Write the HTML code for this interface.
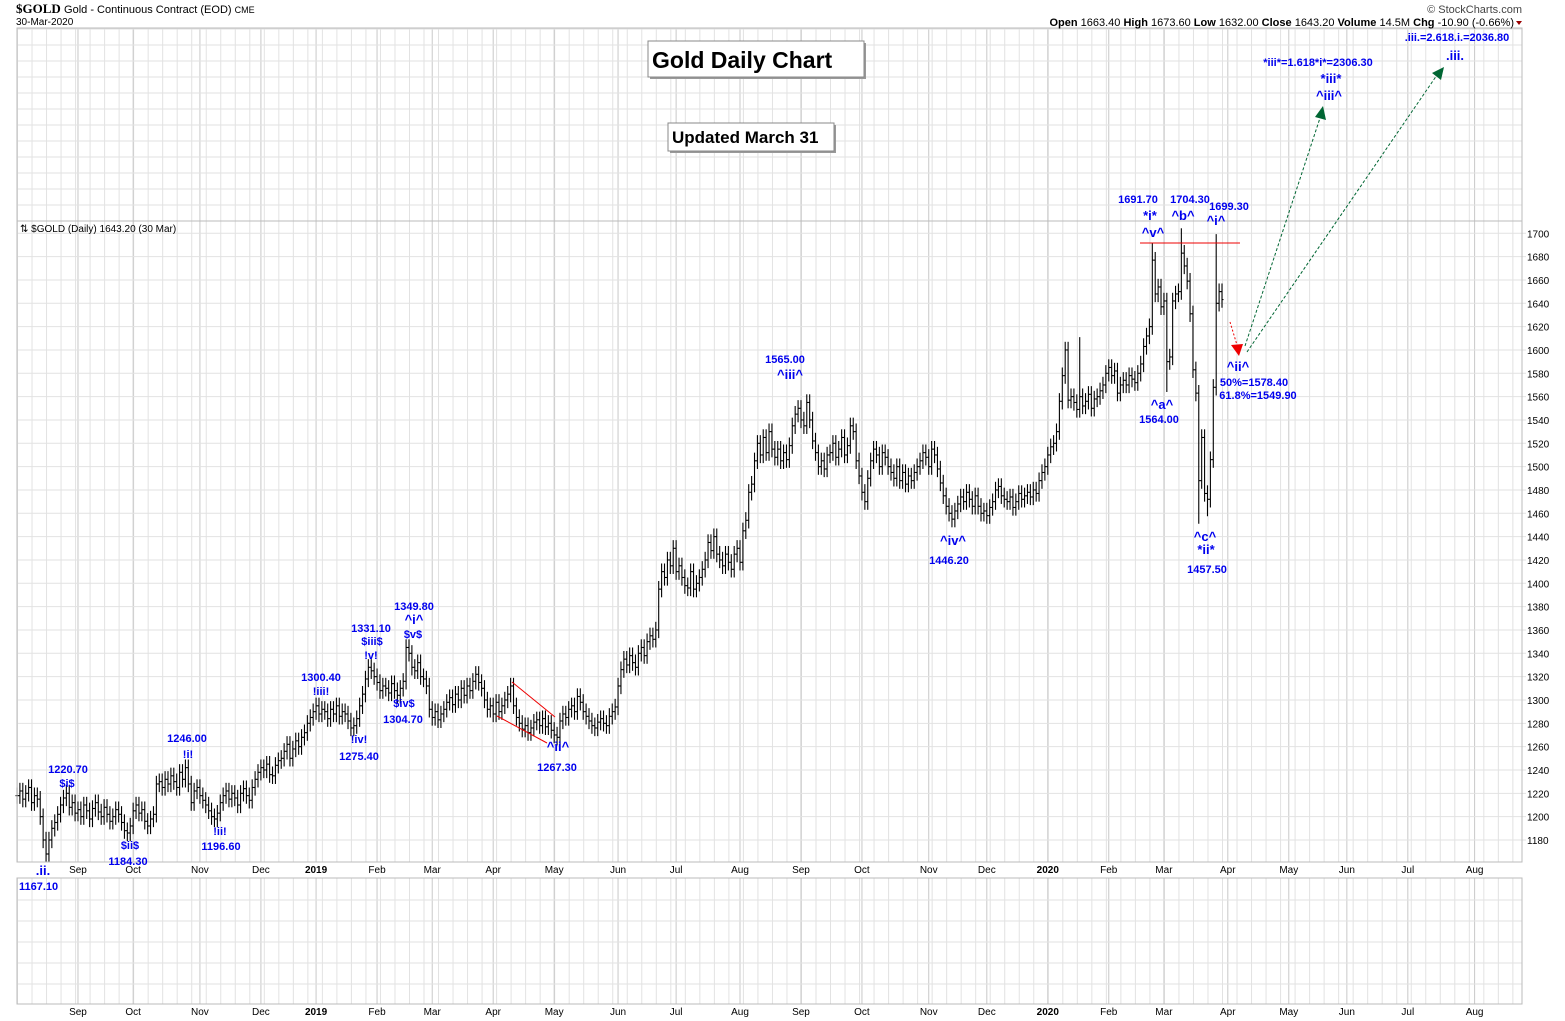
<!DOCTYPE html>
<html><head><meta charset="utf-8"><style>
body{margin:0;background:#fff;}
svg{display:block;font-family:"Liberation Sans",Arial,sans-serif;}
.ann{fill:#0000ee;font-weight:bold;font-size:11px;text-anchor:middle;}
.wv{fill:#0000ee;font-weight:bold;font-size:13px;text-anchor:middle;}
.ax{font-size:10px;fill:#000;}
</style></head><body>
<svg id="chart" width="1565" height="1021" viewBox="0 0 1565 1021" xmlns="http://www.w3.org/2000/svg">
<rect x="0" y="0" width="1565" height="1021" fill="#fff"/>
<g id="grid"></g>
<g id="bars"></g>
<g id="axes"></g>
<text x="16" y="13" font-family="Liberation Serif,serif" font-weight="bold" font-size="13">$GOLD <tspan font-family="Liberation Sans,sans-serif" font-weight="normal" font-size="11">Gold - Continuous Contract (EOD) <tspan font-size="9">CME</tspan></tspan></text>
<text x="16" y="25" font-size="10">30-Mar-2020</text>
<text x="1522" y="13" font-size="11" text-anchor="end" fill="#444">© StockCharts.com</text>
<text x="1514" y="26" font-size="11" text-anchor="end"><tspan font-weight="bold">Open</tspan> 1663.40  <tspan font-weight="bold">High</tspan> 1673.60  <tspan font-weight="bold">Low</tspan> 1632.00  <tspan font-weight="bold">Close</tspan> 1643.20  <tspan font-weight="bold">Volume</tspan> 14.5M  <tspan font-weight="bold">Chg</tspan> -10.90 (-0.66%)</text>
<polygon points="1516,21 1522,21 1519,25" fill="#900"/>
<text x="20" y="232" font-size="10">⇅ $GOLD (Daily) 1643.20 (30 Mar)</text>

<g>
<rect x="650" y="43" width="216" height="36" fill="#999"/>
<rect x="648" y="41" width="216" height="36" fill="#fff" stroke="#888"/>
<text x="652" y="68" font-size="23" font-weight="bold">Gold Daily Chart</text></g>
<g>
<rect x="670" y="125" width="166" height="28" fill="#999"/>
<rect x="668" y="123" width="166" height="28" fill="#fff" stroke="#888"/>
<text x="672" y="143" font-size="17" font-weight="bold">Updated March 31</text></g>

<g stroke="#e00" stroke-width="1">
<line x1="512" y1="682" x2="555" y2="717"/><line x1="497" y1="716" x2="547" y2="743"/>
<line x1="1140" y1="243" x2="1240" y2="243"/></g>
<g>
<line x1="1230" y1="322" x2="1237" y2="345" stroke="#e00" stroke-dasharray="2,2"/>
<polygon points="1231,345 1243,344 1239,356" fill="#e00"/>
<line x1="1245" y1="346" x2="1320" y2="118" stroke="#063" stroke-dasharray="3,2"/>
<polygon points="1315,117 1326,120 1323,106" fill="#063"/>
<line x1="1247" y1="352" x2="1437" y2="75" stroke="#063" stroke-dasharray="3,2"/>
<polygon points="1432,73 1441,80 1444,67" fill="#063"/>
</g>

<g>
<text class="wv" x="43" y="875" font-size="15">.ii.</text>
<text class="ann" x="68" y="773">1220.70</text><text class="ann" x="67" y="787">$i$</text>
<text class="ann" x="130" y="849">$ii$</text><text class="ann" x="128" y="865">1184.30</text>
<text class="ann" x="187" y="742">1246.00</text><text class="ann" x="188" y="758">!i!</text>
<text class="ann" x="220" y="835">!ii!</text><text class="ann" x="221" y="850">1196.60</text>
<text class="ann" x="321" y="681">1300.40</text><text class="ann" x="321" y="695">!iii!</text>
<text class="ann" x="359" y="743">!iv!</text><text class="ann" x="359" y="760">1275.40</text>
<text class="ann" x="371" y="632">1331.10</text><text class="ann" x="372" y="645">$iii$</text><text class="ann" x="371" y="659">!v!</text>
<text class="ann" x="414" y="610">1349.80</text><text class="wv" x="414" y="624">^i^</text><text class="ann" x="413" y="638">$v$</text>
<text class="ann" x="404" y="707">$iv$</text><text class="ann" x="403" y="723">1304.70</text>
<text class="wv" x="558" y="751">^ii^</text><text class="ann" x="557" y="771">1267.30</text>
<text class="ann" x="785" y="363">1565.00</text><text class="wv" x="790" y="379">^iii^</text>
<text class="wv" x="953" y="545">^iv^</text><text class="ann" x="949" y="564">1446.20</text>
<text class="ann" x="1138" y="203">1691.70</text><text class="wv" x="1150" y="220">*i*</text><text class="wv" x="1153" y="237">^v^</text>
<text class="ann" x="1190" y="203">1704.30</text><text class="wv" x="1183" y="220">^b^</text>
<text class="ann" x="1229" y="210">1699.30</text><text class="wv" x="1216" y="225">^i^</text>
<text class="wv" x="1162" y="409">^a^</text><text class="ann" x="1159" y="423">1564.00</text>
<text class="wv" x="1205" y="541">^c^</text><text class="wv" x="1206" y="554">*ii*</text><text class="ann" x="1207" y="573">1457.50</text>
<text class="wv" x="1238" y="371">^ii^</text><text class="ann" x="1254" y="386">50%=1578.40</text><text class="ann" x="1258" y="399">61.8%=1549.90</text>
<text class="ann" x="1318" y="66">*iii*=1.618*i*=2306.30</text><text class="wv" x="1331" y="83">*iii*</text><text class="wv" x="1329" y="100">^iii^</text>
<text class="ann" x="1457" y="41">.iii.=2.618.i.=2036.80</text><text class="wv" x="1455" y="60" font-size="14">.iii.</text>
<text class="ann" x="19" y="890" style="text-anchor:start">1167.10</text>
</g>
</svg>
<script>
const closes = [
1218,1222,1215,1220,1225,1212,1218,1215,1200,
1180,1168,1180,1190,
1195,1202,1210,1216,1220,
1208,1212,1203,1206,1200,1210,1205,1198,1207,1212,1204,1200,1208,1202,1196,1200,1206,1202,1195,1188,
1186,1192,1205,1210,1203,1206,
1196,1192,1198,1202,
1228,1230,1225,1232,1228,1235,1230,1225,1238,1232,1242,
1228,1212,1222,1225,1218,1214,1210,1205,1200,1198,
1203,1212,1218,1222,1215,1220,1216,1210,1220,1224,1218,1214,1225,1232,
1238,1242,1240,1245,1236,1235,1244,1248,
1250,1256,1262,1250,1258,1265,1260,1268,1272,
1280,1285,1290,1295,1288,1292,1290,1284,1292,1288,1295,1286,1290,1288,1282,
1276,1278,1284,
1295,1305,1318,1328,1325,1320,
1315,1308,1312,1310,1306,1314,1308,1304,1310,1316,
1345,1340,1328,1325,1332,1320,1318,1312,
1292,1285,1290,1283,1288,1292,
1298,1302,1296,1305,1300,1310,1304,1312,1308,1316,1322,1315,1310,
1300,1292,1295,1288,1298,1290,1295,1300,1305,1312,
1295,1285,1280,1275,1278,1272,1276,1281,1283,1278,1284,1277,1280,1274,1270,1268,
1282,1288,1285,1292,1295,1290,1303,1298,1290,1286,1282,
1278,1276,1281,1284,1280,1278,1286,1290,1294,
1312,1326,1335,1330,1338,1332,1328,
1340,1345,1338,1350,1355,1352,1360,
1395,1410,1405,
1420,1415,1430,1410,1415,1405,
1398,1396,1410,1395,1400,1405,
1412,1420,1435,1428,1440,1425,
1420,1415,1425,1418,1412,1425,1430,1418,
1445,1454,1478,1485,
1505,1520,1510,1525,1512,1530,1515,
1508,1515,1505,1512,1506,1518,
1535,1545,1550,1540,1535,1555,1540,
1522,1512,1500,1505,1498,1510,
1512,1520,1508,1515,1525,1510,1518,1535,1530,
1505,1492,1478,1470,1490,
1505,1515,1510,1500,1512,1508,1500,
1495,1490,1500,1488,1495,1485,1492,1488,1495,
1500,1505,1512,1508,1500,1515,1510,1498,
1486,1475,1466,1460,1455,1462,
1468,1474,1470,1478,1472,1466,1475,
1466,1460,1462,1458,1465,1470,
1480,1483,1475,1472,1470,1474,1465,1470,1477,1472,1475,1478,1474,1480,1477,
1488,1495,1500,1510,1517,1520,1530,
1556,1578,1600,
1557,1560,1555,1549,1560,1552,1556,1562,1550,1558,1560,1565,1570,
1580,1585,1578,1582,
1563,1570,
1574,1570,1578,1575,1572,1580,1588,
1603,1612,1620,
1677,1648,1654,1637,1642,1590,1594,1642,1648,1650,1683,1672,1659,1631,1583,1563,1488,1525,1477,1472,1506,1568,1640,1650,1643.2
];
// extreme highs/lows: bars counted back from the last bar
const highBack = [24,14,2,49,200];
const highVal = [1691.7,1704.3,1699.3,1611,1349.8];
const lowBack = [19,8,5,405];
const lowVal = [1564,1451,1457.5,1167.1];
const monthLabels = ["Sep","Oct","Nov","Dec","2019","Feb","Mar","Apr","May","Jun","Jul","Aug","Sep","Oct","Nov","Dec","2020","Feb","Mar","Apr","May","Jun","Jul","Aug"];
const monthIdx = [21,40,63,84,103,124,143,164,185,207,227,249,270,291,314,334,355,376,395,417,438,458,479,502];
const priceTicks = [1180,1200,1220,1240,1260,1280,1300,1320,1340,1360,1380,1400,1420,1440,1460,1480,1500,1520,1540,1560,1580,1600,1620,1640,1660,1680,1700];

const NS="http://www.w3.org/2000/svg";
const L=17,R=1522,TOP=28,PTOP=221,BOT=862;
const step=(1222-L)/(closes.length-1);
const xs=i=>L+i*step;
const ys=p=>233.3+(1700-p)*1.1667;
function mk(tag,attrs,parent){const e=document.createElementNS(NS,tag);for(const k in attrs)e.setAttribute(k,attrs[k]);parent.appendChild(e);return e;}
const grid=document.getElementById('grid'),bars=document.getElementById('bars'),axes=document.getElementById('axes');
[[TOP,BOT],[878,1004]].forEach(([t,b])=>{
  for(let x=L+0.5;x<R;x+=step*5){const ln=mk('line',{x1:x,x2:x,y1:t,y2:b,stroke:'#e2e2e2'},grid);
  
  }
  monthIdx.forEach(ix=>{const x=xs(ix);const ln=mk('line',{x1:x,x2:x,y1:t,y2:b,stroke:'#c8c8c8'},grid);
  
  });
});
for(let y=PTOP-16;y>TOP;y-=16){const ln=mk('line',{x1:L,x2:R,y1:y,y2:y,stroke:'#e2e2e2'},grid);

}
for(let y=900;y<1004;y+=21){const ln=mk('line',{x1:L,x2:R,y1:y,y2:y,stroke:'#e2e2e2'},grid);

}
priceTicks.forEach(p=>{const y=ys(p);
  const ln=mk('line',{x1:L,x2:R+4,y1:y,y2:y,stroke:'#e2e2e2'},grid);
  
  
  const t=mk('text',{x:R+5,y:y+4,'class':'ax'},axes);t.textContent=p;
  
  });
[[TOP,BOT],[878,1004]].forEach(([t,b])=>{const r=mk('rect',{x:L,y:t,width:R-L,height:b-t,fill:'none',stroke:'#bbb'},axes);

});
const pl=mk('line',{x1:L,x2:R,y1:PTOP,y2:PTOP,stroke:'#bbb'},axes);


monthLabels.forEach((m,k)=>{[873,1015].forEach(y=>{const t=mk('text',{x:xs(monthIdx[k]),y:y,'class':'ax','text-anchor':'middle','font-weight':/^\d{4}$/.test(m)?'bold':'normal'},axes);t.textContent=m;

});});
const N=closes.length;
closes.forEach((c,i)=>{const o=i>0?closes[i-1]:c;let hi=Math.max(o,c)+7,lo=Math.min(o,c)-7;
  const hk=highBack.indexOf(N-1-i); if(hk>=0) hi=Math.max(hi,highVal[hk]);
  const lk=lowBack.indexOf(N-1-i); if(lk>=0) lo=Math.min(lo,lowVal[lk]);
  const x=xs(i);
  const g=mk('g',{stroke:'#000','stroke-width':1.1},bars);
  
  
  mk('line',{x1:x,x2:x,y1:ys(hi),y2:ys(lo)},g);
  mk('line',{x1:x-1.5,x2:x,y1:ys(o),y2:ys(o)},g);
  mk('line',{x1:x,x2:x+1.5,y1:ys(c),y2:ys(c)},g);});
</script>
</body></html>
